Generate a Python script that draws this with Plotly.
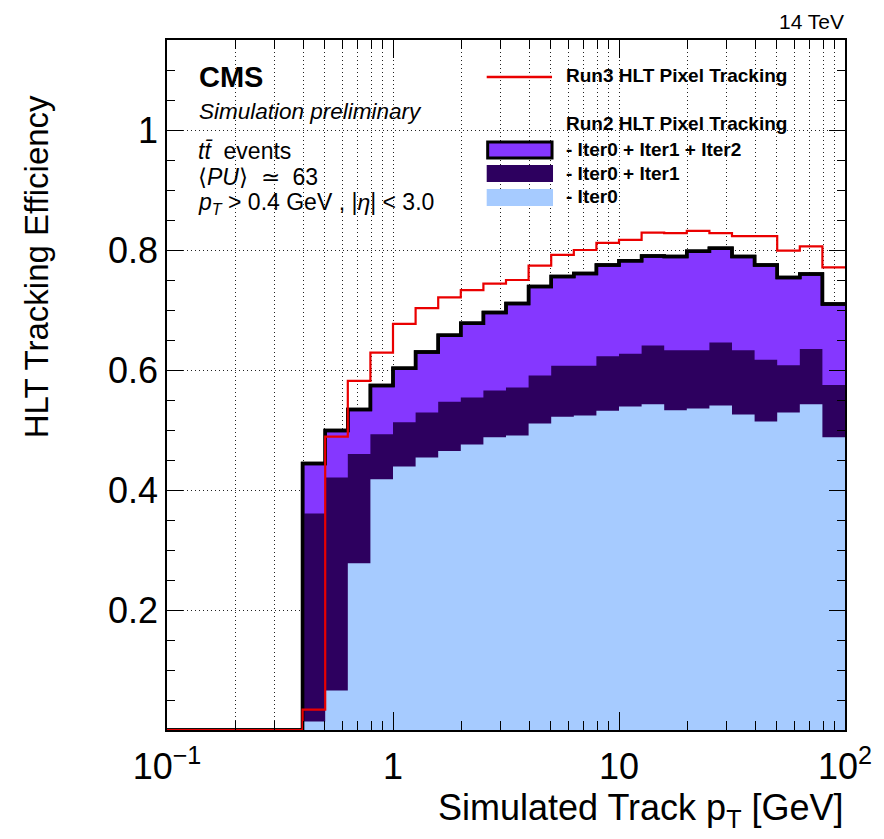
import plotly.graph_objects as go

# ---------------- data ----------------
bin_edges = [0.1, 0.1259, 0.1585, 0.1995, 0.2512, 0.3162, 0.3981, 0.5012, 0.631, 0.7943,
             1.0, 1.259, 1.585, 1.995, 2.512, 3.162, 3.981, 5.012, 6.31, 7.943,
             10.0, 12.59, 15.85, 19.95, 25.12, 31.62, 39.81, 50.12, 63.1, 79.43, 100.0]

run3_pixel = [0, 0, 0, 0, 0, 0,
              0.034, 0.489, 0.582, 0.629, 0.677, 0.703, 0.721, 0.733, 0.744, 0.750,
              0.774, 0.792, 0.800, 0.812, 0.817, 0.829, 0.828, 0.832, 0.828, 0.823,
              0.823, 0.799, 0.806, 0.771]

run2_iter012 = [0, 0, 0, 0, 0, 0,
                0.444, 0.499, 0.534, 0.574, 0.603, 0.630, 0.658, 0.678, 0.696, 0.711,
                0.739, 0.756, 0.761, 0.775, 0.782, 0.790, 0.789, 0.798, 0.803, 0.789,
                0.775, 0.754, 0.760, 0.710]

run2_iter01 = [0, 0, 0, 0, 0, 0,
               0.361, 0.421, 0.460, 0.493, 0.513, 0.529, 0.547, 0.554, 0.566, 0.571,
               0.591, 0.607, 0.607, 0.623, 0.627, 0.641, 0.633, 0.633, 0.646, 0.633,
               0.617, 0.608, 0.635, 0.575]

run2_iter0 = [0, 0, 0, 0, 0, 0,
              0.014, 0.066, 0.278, 0.418, 0.439, 0.454, 0.465, 0.476, 0.488, 0.491,
              0.511, 0.522, 0.524, 0.532, 0.539, 0.543, 0.533, 0.536, 0.541, 0.526,
              0.514, 0.529, 0.543, 0.488]

x_tickvals = [0.1, 1, 10, 100]
x_ticktext = ["10<sup>\u22121</sup>", "1", "10", "10<sup>2</sup>"]
x_minorvals = [0.2, 0.3, 0.4, 0.5, 0.6, 0.7, 0.8, 0.9,
               2, 3, 4, 5, 6, 7, 8, 9,
               20, 30, 40, 50, 60, 70, 80, 90]
y_tickvals = [0.2, 0.4, 0.6, 0.8, 1.0]
y_ticktext = ["0.2", "0.4", "0.6", "0.8", "1"]

# ---------------- styles ----------------
C_VIOLET = "#8537FF"
C_DARK = "#2D005F"
C_LIGHT = "#A6CBFF"
C_RED = "#EA0000"
FONT = "Liberation Sans, Arial, Helvetica, sans-serif"

W, H = 884, 839
ML, MR, MT, MB = 167, 32, 40, 109
PW, PH = W - ML - MR, H - MT - MB


def px(x):
    return (x - ML) / PW


def py(y):
    return (H - MB - y) / PH


def step_y(vals):
    return list(vals) + [vals[-1]]


fig = go.Figure()

fig.add_trace(go.Scatter(x=bin_edges, y=step_y(run2_iter012), mode="lines",
                         line=dict(shape="hv", color="black", width=3.5),
                         fill="tozeroy", fillcolor=C_VIOLET, showlegend=False,
                         hoverinfo="skip"))
fig.add_trace(go.Scatter(x=bin_edges, y=step_y(run2_iter01), mode="lines",
                         line=dict(shape="hv", color=C_DARK, width=0),
                         fill="tozeroy", fillcolor=C_DARK, showlegend=False,
                         hoverinfo="skip"))
fig.add_trace(go.Scatter(x=bin_edges, y=step_y(run2_iter0), mode="lines",
                         line=dict(shape="hv", color=C_LIGHT, width=0),
                         fill="tozeroy", fillcolor=C_LIGHT, showlegend=False,
                         hoverinfo="skip"))
# black outline again on top of the fills
fig.add_trace(go.Scatter(x=bin_edges, y=step_y(run2_iter012), mode="lines",
                         line=dict(shape="hv", color="black", width=3.5),
                         showlegend=False, hoverinfo="skip"))
fig.add_trace(go.Scatter(x=bin_edges, y=step_y(run3_pixel), mode="lines",
                         line=dict(shape="hv", color=C_RED, width=2.2),
                         showlegend=False, hoverinfo="skip"))

grid = dict(showgrid=True, gridcolor="#222222", gridwidth=1, griddash="1px,3px")

fig.update_xaxes(type="log", range=[-1, 2],
                 tickmode="array", tickvals=x_tickvals, ticktext=x_ticktext,
                 ticks="inside", ticklen=18, tickwidth=1, tickcolor="black",
                 showline=True, linecolor="black", linewidth=1.5, mirror="allticks",
                 tickfont=dict(family=FONT, size=36, color="black"),
                 ticklabelstandoff=4,
                 zeroline=False,
                 minor=dict(tickmode="array", tickvals=x_minorvals, ticks="inside",
                            ticklen=9, tickwidth=1, tickcolor="black", **grid),
                 **grid)
fig.update_yaxes(range=[0, 1.15],
                 tickmode="array", tickvals=y_tickvals, ticktext=y_ticktext,
                 ticks="inside", ticklen=16, tickwidth=1, tickcolor="black",
                 showline=True, linecolor="black", linewidth=1.5, mirror="allticks",
                 tickfont=dict(family=FONT, size=36, color="black"),
                 zeroline=False,
                 minor=dict(dtick=0.05, ticks="inside", ticklen=8, tickwidth=1,
                            tickcolor="black", showgrid=False),
                 **grid)

ann = []


def text(x, y, s, size, anchor="left", **kw):
    ann.append(dict(x=px(x), y=py(y), xref="paper", yref="paper", text=s,
                    showarrow=False, xanchor=anchor, yanchor="middle",
                    font=dict(family=FONT, size=size, color="black"), **kw))


text(197, 77, "<b>CMS</b>", 29)
text(197, 112, "<i>Simulation preliminary</i>", 22.5)
text(196, 151, "<i>tt\u0304</i>  events", 23)
text(196, 177, "\u27e8<i>PU</i>\u27e9  \u2243  63", 23)
text(196, 203, "<i>p</i><sub><i>T</i></sub> > 0.4 GeV , |<i>\u03b7</i>| < 3.0", 23)
text(853, 21, "14 TeV", 21, anchor="right")

text(568, 75, "<b>Run3 HLT Pixel Tracking</b>", 19)
text(568, 124, "<b>Run2 HLT Pixel Tracking</b>", 19)
text(568, 149, "<b>- Iter0 + Iter1 + Iter2</b>", 19)
text(568, 173, "<b>- Iter0 + Iter1</b>", 19)
text(568, 197, "<b>- Iter0</b>", 19)

# axis titles
text(853, 810, "Simulated Track p<sub>T</sub> [GeV]", 36, anchor="right")
ann.append(dict(x=px(35), y=py(267), xref="paper", yref="paper",
                text="HLT Tracking Efficiency", textangle=-90, showarrow=False,
                xanchor="center", yanchor="middle",
                font=dict(family=FONT, size=33, color="black")))

shapes = [
    dict(type="line", xref="paper", yref="paper", x0=px(490), x1=px(556),
         y0=py(77), y1=py(77), line=dict(color=C_RED, width=2.5)),
    dict(type="rect", xref="paper", yref="paper", x0=px(491), x1=px(556),
         y0=py(142), y1=py(158), fillcolor=C_VIOLET, line=dict(color="black", width=3)),
    dict(type="rect", xref="paper", yref="paper", x0=px(490), x1=px(557),
         y0=py(165), y1=py(182), fillcolor=C_DARK, line=dict(width=0)),
    dict(type="rect", xref="paper", yref="paper", x0=px(490), x1=px(557),
         y0=py(189), y1=py(206), fillcolor=C_LIGHT, line=dict(width=0)),
]

fig.update_layout(width=W, height=H,
                  margin=dict(l=ML, r=MR, t=MT, b=MB, pad=0),
                  paper_bgcolor="white", plot_bgcolor="white",
                  annotations=ann, shapes=shapes, showlegend=False,
                  font=dict(family=FONT))

fig.write_html("out.html")
